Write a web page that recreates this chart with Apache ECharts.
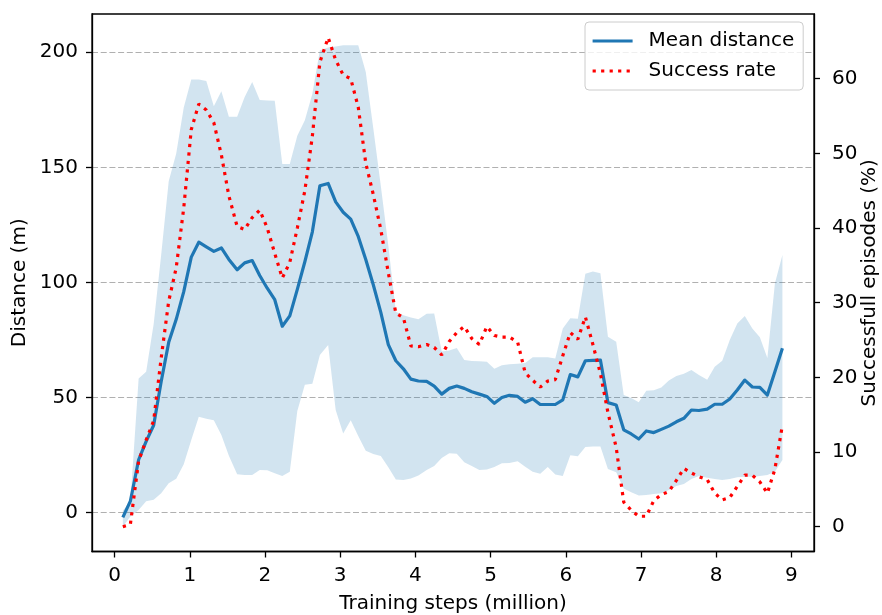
<!DOCTYPE html>
<html>
<head>
<meta charset="utf-8">
<script src="https://cdn.jsdelivr.net/npm/echarts@6/dist/echarts.min.js"></script>
<style>
  html, body { margin: 0; padding: 0; background: #ffffff; }
  #chart { width: 882px; height: 615px; }
</style>
</head>
<body>
<div id="chart"></div>
<script>
// Training steps (million)
const steps = [
  0.11,0.21,0.32,0.42,0.52,0.62,0.72,0.82,0.92,1.02,
  1.12,1.22,1.32,1.42,1.52,1.63,1.73,1.83,1.93,2.03,
  2.13,2.23,2.33,2.43,2.53,2.63,2.73,2.84,2.94,3.04,
  3.14,3.24,3.34,3.44,3.54,3.64,3.74,3.84,3.94,4.04,
  4.15,4.25,4.35,4.45,4.55,4.65,4.75,4.85,4.95,5.05,
  5.15,5.25,5.36,5.46,5.56,5.66,5.76,5.86,5.96,6.06,
  6.16,6.26,6.36,6.46,6.56,6.67,6.77,6.87,6.97,7.07,
  7.17,7.27,7.37,7.47,7.57,7.67,7.77,7.88,7.98,8.08,
  8.18,8.28,8.38,8.48,8.58,8.68,8.78,8.88
];
// Mean distance (m)
const meanDistance = [
  -2, 5, 23, 31, 38, 57, 74, 84, 96, 111,
  117.5, 115.5, 113.5, 115, 110, 105.5, 108.5, 109.5, 103, 97.5,
  92.5, 81, 85.5, 97, 109, 122, 142, 143, 135, 130.5,
  127.5, 120, 110, 99, 87, 73, 66, 62.5, 58, 57.2,
  57, 55, 51.5, 54, 55, 54, 52.5, 51.5, 50.5, 47.5,
  50, 51, 50.5, 48, 49.5, 47, 47, 47, 49, 60,
  59, 66, 66.2, 66.3, 47.8, 46.8, 36, 34.2, 32, 35.5,
  34.8, 36.2, 37.6, 39.5, 41, 44.6, 44.4, 45, 47.1, 47.1,
  49.4, 53.3, 57.6, 54.6, 54.4, 51.1, 61.2, 71.4
];
// Upper edge of the spread band (m)
const bandUpper = [
  1, 4.5, 58.3, 61.2, 82, 112, 144, 156, 176, 188.2,
  188.2, 187.5, 176.5, 183, 172, 172, 180.5, 187.1, 179.2, 179,
  178.9, 151.5, 151.4, 163.7, 170.5, 182, 200.9, 202, 202.5, 203,
  203, 203, 191.4, 167, 142, 116, 87.3, 85.8, 84.8, 84,
  86.4, 86.5, 70, 70.5, 71.5, 66.3, 65.9, 65.8, 65.6, 62.5,
  64, 64.5, 64.7, 65, 67.5, 67.5, 67.5, 67, 80, 84.5,
  84.2, 103.8, 104.8, 104, 76.4, 74.3, 51.1, 49.8, 48, 53,
  53.2, 54.4, 57.4, 59.4, 60.3, 62, 59.8, 57.7, 63.4, 66,
  75, 82.2, 85.4, 80, 76.2, 67.2, 99.6, 111.9
];
// Lower edge of the spread band (m)
const bandLower = [
  -6.1, -1.7, 1.2, 5, 5.6, 8.4, 12.8, 14.7, 21, 31.6,
  41.7, 40.8, 40.2, 33.8, 24.7, 16.7, 16.4, 16.4, 18.6, 18.4,
  17.1, 15.9, 17.8, 44.2, 55.6, 56, 68.5, 72.8, 44.6, 34.4,
  40.2, 33.3, 26.9, 25.5, 24.6, 19.7, 14.4, 14.2, 14.9, 16.2,
  18.5, 20.3, 23.8, 25.8, 25.6, 21.9, 20.3, 18.5, 18.8, 19.8,
  21.5, 21.6, 22.3, 20, 17.8, 16.9, 19.8, 16.6, 15.9, 25,
  24.5, 28.5, 28.7, 28.8, 19, 17.6, 10.5, 8.9, 7.5, 7.7,
  8.1, 8.4, 9.9, 11.6, 12.5, 14.6, 15.9, 15.2, 14.6, 14.2,
  14.6, 15.4, 15.6, 15.6, 15.9, 16.4, 17.8, 22.9
];
// Success rate (%)
const successRate = [
  0, 0.3, 8.8, 11.6, 14.2, 22.6, 30.2, 34.7, 42.7, 53.2,
  56.6, 55.8, 54.1, 49.8, 44.3, 40.2, 39.8, 41.4, 42.4, 40,
  36.6, 33.3, 35.4, 40, 45, 52.3, 62.2, 65.5, 62.5, 60.5,
  60, 56.2, 48.7, 44.5, 39.8, 34, 28.6, 28, 24.2, 24.1,
  24.4, 24, 23, 24.8, 26, 26.8, 25.2, 24.4, 26.8, 25.6,
  25.4, 25.4, 24.7, 20.6, 19.6, 18.7, 19.5, 19.7, 22.9, 26,
  25.1, 28.1, 24.4, 20.5, 15.3, 10.6, 3.3, 2.2, 1.4, 1.4,
  3.5, 4.3, 4.7, 6.2, 7.8, 7.2, 6.7, 6.3, 4.5, 3.6,
  3.9, 5.4, 6.9, 6.9, 6.0, 4.5, 7.7, 13.6
];
// Tick labels
const xTicks = [0, 1, 2, 3, 4, 5, 6, 7, 8, 9];
const distanceTicks = [0, 50, 100, 150, 200];
const successTicks = [0, 10, 20, 30, 40, 50, 60];

const FONT = 'DejaVu Sans';
const bandData = steps.map((x, i) => [x, bandLower[i], bandUpper[i]]);
const meanData = steps.map((x, i) => [x, meanDistance[i]]);
const successData = steps.map((x, i) => [x, successRate[i]]);

function renderBand(params, api) {
  if (params.dataIndex !== 0) return null;
  const pts = [];
  for (let i = 0; i < bandData.length; i++) pts.push(api.coord([bandData[i][0], bandData[i][2]]));
  for (let i = bandData.length - 1; i >= 0; i--) pts.push(api.coord([bandData[i][0], bandData[i][1]]));
  return {
    type: 'polygon',
    shape: { points: pts },
    style: { fill: 'rgba(31,119,180,0.2)', stroke: null }
  };
}

const chart = echarts.init(document.getElementById('chart'), null, { renderer: 'canvas' });
const axisLineStyle = { color: '#000', width: 1.3 };
chart.setOption({
  animation: false,
  backgroundColor: '#ffffff',
  grid: {
    left: 92, right: 68, top: 14, bottom: 63.5,
    containLabel: false,
    outerBoundsMode: 'none',
    show: true, borderColor: '#000', borderWidth: 1.3, backgroundColor: 'transparent'
  },
  legend: {
    data: ['Mean distance', 'Success rate'],
    orient: 'vertical',
    left: 585, top: 22,
    padding: [9, 9, 9, 6],
    itemGap: 10,
    itemWidth: 40,
    itemHeight: 14,
    itemStyle: { opacity: 0 },
    lineStyle: { width: 3.2 },
    backgroundColor: 'rgba(255,255,255,0.8)',
    borderColor: '#cccccc',
    borderWidth: 1,
    borderRadius: 4,
    textStyle: { fontFamily: FONT, fontSize: 20, color: '#000', padding: [0, 0, 0, 11] }
  },
  xAxis: {
    type: 'value',
    min: -0.30, max: 9.30,
    name: 'Training steps (million)',
    nameLocation: 'middle',
    nameGap: 42,
    nameMoveOverlap: false,
    nameTextStyle: { fontFamily: FONT, fontSize: 20, color: '#000' },
    axisLine: { show: true, onZero: false, lineStyle: axisLineStyle },
    axisTick: { show: true, length: 6, lineStyle: axisLineStyle, customValues: xTicks },
    axisLabel: { fontFamily: FONT, fontSize: 20, color: '#000', margin: 14, customValues: xTicks },
    splitLine: { show: false }
  },
  yAxis: [
    {
      type: 'value',
      min: -16.85, max: 216.6,
      position: 'left',
      name: 'Distance (m)',
      nameLocation: 'middle',
      nameGap: 62,
      nameMoveOverlap: false,
      nameTextStyle: { fontFamily: FONT, fontSize: 20, color: '#000' },
      axisLine: { show: true, onZero: false, lineStyle: axisLineStyle },
      axisTick: { show: true, length: 6, lineStyle: axisLineStyle, customValues: distanceTicks },
      axisLabel: { fontFamily: FONT, fontSize: 20, color: '#000', margin: 14, customValues: distanceTicks },
      splitLine: {
        show: true,
        lineStyle: { color: '#b0b0b0', type: [6, 2.7], width: 1.2 }
      }
    },
    {
      type: 'value',
      min: -3.32, max: 68.66,
      position: 'right',
      name: 'Successfull episodes (%)',
      nameLocation: 'middle',
      nameGap: 46,
      nameMoveOverlap: false,
      nameTextStyle: { fontFamily: FONT, fontSize: 20, color: '#000' },
      axisLine: { show: true, onZero: false, lineStyle: axisLineStyle },
      axisTick: { show: true, length: 6, lineStyle: axisLineStyle, customValues: successTicks },
      axisLabel: { fontFamily: FONT, fontSize: 20, color: '#000', margin: 18, customValues: successTicks },
      splitLine: { show: false }
    }
  ],
  series: [
    {
      name: 'band',
      type: 'custom',
      xAxisIndex: 0,
      yAxisIndex: 0,
      data: bandData,
      encode: { x: 0, y: [1, 2] },
      renderItem: renderBand,
      silent: true,
      clip: true,
      z: 1
    },
    {
      name: 'Mean distance',
      type: 'line',
      yAxisIndex: 0,
      data: meanData,
      symbol: 'none',
      itemStyle: { color: '#1f77b4' },
      lineStyle: { color: '#1f77b4', width: 3.2, join: 'round' },
      z: 3
    },
    {
      name: 'Success rate',
      type: 'line',
      yAxisIndex: 1,
      data: successData,
      symbol: 'none',
      itemStyle: { color: '#ff0000' },
      lineStyle: { color: '#ff0000', width: 3.2, type: [3.2, 5.3], cap: 'butt' },
      z: 4
    }
  ]
});
</script>
</body>
</html>
